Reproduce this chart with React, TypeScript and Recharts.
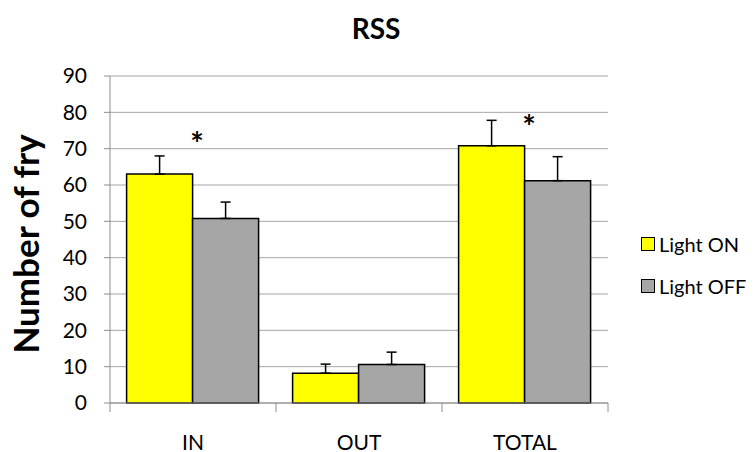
import { ComposedChart, Bar, ErrorBar, Scatter, XAxis, YAxis, CartesianGrid } from 'recharts';

const categories = ['IN', 'OUT', 'TOTAL'];
const lightOn = [63, 8.2, 70.8];
const lightOnErr = [5, 2.5, 7];
const lightOff = [50.8, 10.6, 61.2];
const lightOffErr = [4.5, 3.4, 6.6];
// where the significance stars sit (value units), null = no star
const starLevel = [71, null, 75.7];
const yTicks = [0, 10, 20, 30, 40, 50, 60, 70, 80, 90];

const series = [
  { key: 'on', name: 'Light ON', color: '#FFFF00' },
  { key: 'off', name: 'Light OFF', color: '#A6A6A6' },
];

const data = categories.map((c, i) => ({
  name: c,
  on: lightOn[i],
  onErr: [0, lightOnErr[i]],
  off: lightOff[i],
  offErr: [0, lightOffErr[i]],
  star: starLevel[i],
}));

const FONT = 'Lato, "Open Sans", sans-serif';

function CategoryTick(props: any) {
  const { x, y, payload, index } = props;
  const half = payload.offset ?? 83;
  const last = index === categories.length - 1;
  return (
    <g>
      <line x1={x - half} y1={y - 8} x2={x - half} y2={y + 1} stroke="#8c8c8c" />
      {last && <line x1={x + half} y1={y - 8} x2={x + half} y2={y + 1} stroke="#8c8c8c" />}
      <text x={x} y={y + 30} textAnchor="middle" dominantBaseline="central" fontSize={21} fill="#000" fontFamily={FONT}>
        {payload.value}
      </text>
    </g>
  );
}

function Star(props: any) {
  const { cx, cy, payload } = props;
  if (payload.star == null) return null;
  return (
    <text x={cx + 4} y={cy + 11} textAnchor="middle" fontSize={32} fontWeight="bold" fill="#000" fontFamily={FONT}>
      *
    </text>
  );
}

export default function App() {
  return (
    <div style={{ position: 'absolute', left: 0, top: 0, width: 755, height: 452, background: '#fff' }}>
      <div style={{ position: 'absolute', left: 0, width: 752, top: 10, textAlign: 'center', fontFamily: FONT, fontWeight: 'bold', fontSize: 28, lineHeight: '36px' }}>
        RSS
      </div>
      <div
        style={{
          position: 'absolute', left: 25, top: 244, transform: 'translate(-50%, -50%) rotate(-90deg)',
          whiteSpace: 'nowrap', fontFamily: FONT, fontWeight: 'bold', fontSize: 35, lineHeight: '40px',
        }}
      >
        Number of fry
      </div>
      <div style={{ position: 'absolute', left: 641, top: 223, fontFamily: FONT, fontSize: 20, color: '#000' }}>
        {series.map((s) => (
          <div key={s.key} style={{ display: 'flex', alignItems: 'center', height: 42, whiteSpace: 'nowrap' }}>
            <span style={{ width: 12, height: 12, background: s.color, border: '1px solid #000', display: 'inline-block', marginRight: 4 }} />
            {s.name}
          </div>
        ))}
      </div>
      <ComposedChart
        width={755}
        height={452}
        data={data}
        margin={{ top: 76, right: 147, bottom: 0, left: 0 }}
        barCategoryGap="10%"
        barGap={0}
        style={{ position: 'absolute', left: 0, top: 0 }}
      >
        <CartesianGrid vertical={false} stroke="#a6a6a6" />
        <XAxis
          dataKey="name"
          height={49}
          tick={<CategoryTick />}
          tickLine={false}
          axisLine={{ stroke: '#8c8c8c' }}
          interval={0}
        />
        <YAxis
          width={110}
          domain={[0, 90]}
          ticks={yTicks}
          interval={0}
          tickSize={6}
          tickMargin={17}
          axisLine={{ stroke: '#8c8c8c' }}
          tickLine={{ stroke: '#8c8c8c' }}
          tick={{ fontSize: 21, fill: '#000', fontFamily: FONT }}
        />
        <Bar dataKey="on" name="Light ON" fill="#FFFF00" stroke="#000" strokeWidth={1.5} isAnimationActive={false}>
          <ErrorBar dataKey="onErr" width={5} stroke="#000" strokeWidth={1.5} direction="y" isAnimationActive={false} />
        </Bar>
        <Bar dataKey="off" name="Light OFF" fill="#A6A6A6" stroke="#000" strokeWidth={1.5} isAnimationActive={false}>
          <ErrorBar dataKey="offErr" width={5} stroke="#000" strokeWidth={1.5} direction="y" isAnimationActive={false} />
        </Bar>
        <Scatter dataKey="star" shape={<Star />} legendType="none" isAnimationActive={false} />
      </ComposedChart>
    </div>
  );
}
